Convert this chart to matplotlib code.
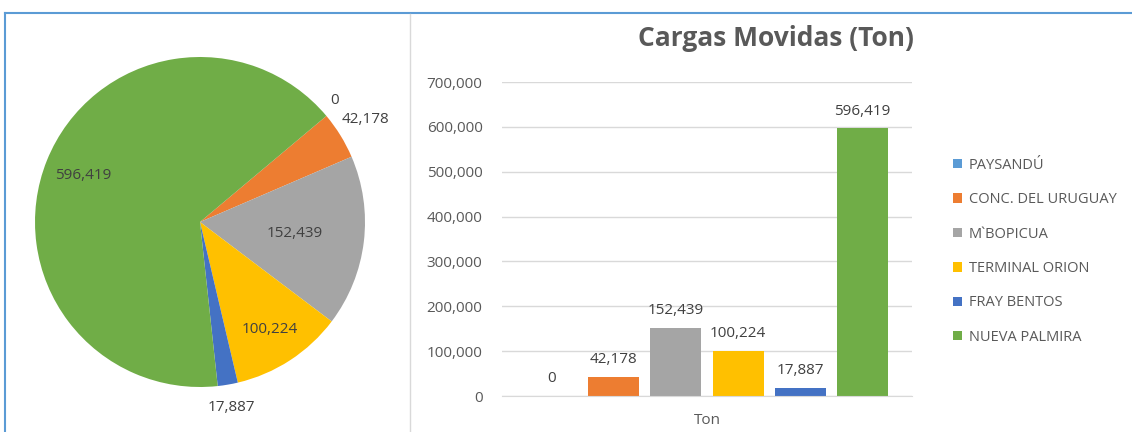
import numpy as np
import matplotlib.pyplot as plt
from matplotlib.lines import Line2D
from matplotlib.patches import Patch

plt.rcParams['font.family'] = ['Open Sans', 'DejaVu Sans']

puertos = ['PAYSANDÚ', 'CONC. DEL URUGUAY', 'M`BOPICUA', 'TERMINAL ORION',
           'FRAY BENTOS', 'NUEVA PALMIRA']
toneladas = [0, 42178, 152439, 100224, 17887, 596419]
colores = ['#5B9BD5', '#ED7D31', '#A5A5A5', '#FFC000', '#4472C4', '#70AD47']
etiquetas = [f'{v:,}' for v in toneladas]

W, H = 1132, 432
fig = plt.figure(figsize=(W / 100, H / 100), dpi=100)

# marco y separador
fig.add_artist(Line2D([5 / W, 1], [1 - 13 / H, 1 - 13 / H], color='#5B9BD5', lw=1.5))
fig.add_artist(Line2D([5 / W, 5 / W], [0, 1 - 13 / H], color='#5B9BD5', lw=1.5))
fig.add_artist(Line2D([410 / W, 410 / W], [0, 1 - 14 / H], color='#D9D9D9', lw=1))

# --- torta ---
r = 165
ax1 = fig.add_axes([(200 - r) / W, (210 - r) / H, 2 * r / W, 2 * r / H])
wedges, _ = ax1.pie(toneladas, colors=colores, startangle=40, counterclock=False,
                    radius=1, wedgeprops=dict(linewidth=0))
ax1.set_xlim(-1, 1)
ax1.set_ylim(-1, 1)
ax1.set_aspect('equal')
ax1.axis('off')

# distancia radial de cada etiqueta (dentro / fuera)
dist = [1.10, 1.18, 0.58, 0.78, 1.14, 0.76]
for w, txt, d in zip(wedges, etiquetas, dist):
    ang = np.deg2rad((w.theta1 + w.theta2) / 2)
    if w.theta2 - w.theta1 < 0.01:
        ang = np.deg2rad(w.theta1 + 2)
    ax1.text(d * np.cos(ang), d * np.sin(ang), txt, ha='center', va='center',
             fontsize=11, color='#404040')

# --- barras ---
ax2 = fig.add_axes([502 / W, 36 / H, 410 / W, 314 / H])
x = np.arange(len(puertos))
barras = ax2.bar(x, toneladas, width=0.82, color=colores)
for xi, v, txt in zip(x, toneladas, etiquetas):
    ax2.text(xi, v + 22000, txt, ha='center', va='bottom', fontsize=11, color='#404040')
ax2.set_ylim(0, 700000)
ax2.set_xlim(-0.8, 5.8)
ax2.set_yticks(np.arange(0, 700001, 100000))
ax2.set_yticklabels([f'{t:,}' for t in range(0, 700001, 100000)])
ax2.set_xticks([2.5])
ax2.set_xticklabels(['Ton'])
ax2.tick_params(length=0, labelsize=11, labelcolor='#595959')
ax2.tick_params(axis='x', pad=12)
ax2.tick_params(axis='y', pad=14)
ax2.grid(axis='y', color='#D9D9D9', lw=1)
ax2.set_axisbelow(True)
for s in ['top', 'right', 'left']:
    ax2.spines[s].set_visible(False)
ax2.spines['bottom'].set_color('#D9D9D9')

fig.text(776 / W, 1 - 38 / H, 'Cargas Movidas (Ton)', ha='center', va='center',
         fontsize=19, fontweight='bold', color='#595959')

handles = [Patch(facecolor=c) for c in colores]
fig.legend(handles, puertos, loc='upper left', bbox_to_anchor=(947 / W, 1 - 152 / H),
           frameon=False, fontsize=10.5, labelcolor='#595959', handlelength=0.6,
           handleheight=0.6, handletextpad=0.5, labelspacing=1.33, borderaxespad=0)

fig.savefig('out.png', dpi=100)
